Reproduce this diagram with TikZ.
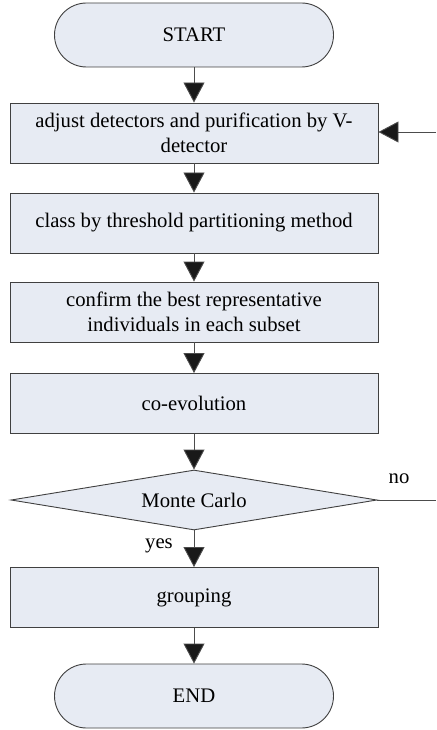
\documentclass[tikz,border=0pt]{standalone}
\usepackage{fontspec}
\setmainfont{Liberation Serif}
\usetikzlibrary{arrows.meta, shapes.geometric}
\definecolor{boxfill}{HTML}{E7EBF3}
\definecolor{boxline}{HTML}{404040}
\tikzset{
  stepbox/.style = {draw = boxline, fill = boxfill, line width = .9pt,
    minimum width = 368pt, minimum height = 60pt, align = center},
  termbox/.style = {stepbox, rounded corners = 32pt,
    minimum width = 279pt, minimum height = 64pt},
  testbox/.style = {draw = boxline, fill = boxfill, line width = .9pt,
    diamond, aspect = 6, inner sep = 0pt,
    minimum width = 366pt, minimum height = 60pt},
  flow/.style = {draw = black!70, line width = .9pt,
    -{Triangle[length = 20pt, width = 21pt, fill = black!90]}}
}

\begin{document}
\begin{tikzpicture}
  [x = 1pt, y = -1pt, font = \fontsize{20.7}{25}\selectfont]
  \useasboundingbox (0,0) rectangle (436,730);
  \node[termbox] (start)    at (194, 35)    {START};
  \node[stepbox] (adjust)   at (194, 133)   {adjust detectors and purification by V-\\detector};
  \node[stepbox] (classify) at (194, 223)   {class by threshold partitioning method};
  \node[stepbox] (confirm)  at (194, 312)   {confirm the best representative\\individuals in each subset};
  \node[stepbox] (coevo)    at (194, 403.5) {co-evolution};
  \node[testbox] (monte)    at (194, 500)   {Monte Carlo};
  \node[stepbox] (group)    at (194, 597.5) {grouping};
  \node[termbox] (finish)   at (194, 696)   {END};
  \coordinate (back) at (436, 132);
  \coordinate (out)  at (436, 500);
  \foreach \a/\b in {start/adjust, adjust/classify, classify/confirm,
                     confirm/coevo, coevo/monte, monte/group, group/finish}{
    \draw[flow] (\a) -- (\b);
  }
  \draw[flow] (back) -- (back -| adjust.east);
  \draw[draw = black!70, line width = .9pt] (monte.east) -- (out);
  \node (no)  at (399, 479) {no};
  \node (yes) at (159, 546) {yes};
\end{tikzpicture}
\end{document}
